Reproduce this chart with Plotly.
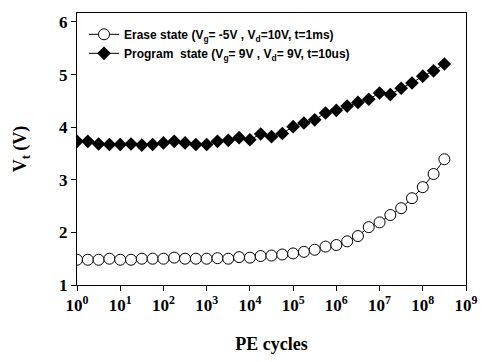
import plotly.graph_objects as go

# PE cycle counts: quarter-decade steps from 10^0 to 10^8.5
exponents = [k * 0.25 for k in range(35)]
pe_cycles = [10 ** e for e in exponents]

vt_erase = [1.48, 1.48, 1.48, 1.50, 1.48, 1.48, 1.50, 1.50, 1.50, 1.52,
            1.50, 1.50, 1.50, 1.51, 1.50, 1.53, 1.52, 1.55, 1.56, 1.58,
            1.60, 1.63, 1.67, 1.73, 1.76, 1.83, 1.93, 2.10, 2.19, 2.33,
            2.46, 2.65, 2.86, 3.11, 3.39]

vt_program = [3.73, 3.73, 3.68, 3.67, 3.67, 3.68, 3.66, 3.67, 3.70, 3.73,
              3.70, 3.67, 3.67, 3.73, 3.75, 3.80, 3.76, 3.87, 3.82, 3.88,
              4.01, 4.08, 4.14, 4.27, 4.32, 4.40, 4.47, 4.53, 4.65, 4.62,
              4.74, 4.84, 4.97, 5.07, 5.20]

x_tick_vals = [10 ** i for i in range(10)]
x_tick_text = [f"10<sup>{i}</sup>" for i in range(10)]
y_tick_vals = [1, 2, 3, 4, 5, 6]

serif = "Liberation Serif"
sans = "Liberation Sans"

fig = go.Figure()
fig.add_trace(go.Scatter(
    x=pe_cycles, y=vt_erase, mode="lines+markers",
    name="<b>Erase state (V<sub>g</sub>= -5V , V<sub>d</sub>=10V, t=1ms)</b>",
    line=dict(color="black", width=1),
    marker=dict(symbol="circle", size=11, color="white",
                line=dict(color="black", width=1)),
))
fig.add_trace(go.Scatter(
    x=pe_cycles, y=vt_program, mode="lines+markers",
    name="<b>Program  state (V<sub>g</sub>= 9V , V<sub>d</sub>= 9V, t=10us)</b>",
    line=dict(color="black", width=1),
    marker=dict(symbol="diamond", size=10.5, color="black",
                line=dict(color="black", width=0)),
))

fig.update_layout(
    width=490, height=362,
    margin=dict(l=77, r=16, t=12, b=72),
    paper_bgcolor="white", plot_bgcolor="white",
    showlegend=True,
    legend=dict(
        x=0.018, y=0.975, xanchor="left", yanchor="top",
        bgcolor="rgba(0,0,0,0)", borderwidth=0,
        font=dict(family=sans, size=12, color="black"),
        tracegroupgap=0, itemwidth=30,
    ),
    xaxis=dict(
        type="log", range=[0, 9],
        tickvals=x_tick_vals, ticktext=x_tick_text,
        ticks="outside", ticklen=5, tickwidth=1, tickcolor="black",
        showline=True, linecolor="black", linewidth=1, mirror=True,
        showgrid=False, zeroline=False,
        tickfont=dict(family=serif, size=17, color="black", weight="bold"),
        title=dict(text="<b>PE cycles</b>", standoff=22,
                   font=dict(family=serif, size=18, color="black")),
    ),
    yaxis=dict(
        range=[1, 6.17],
        tickvals=y_tick_vals,
        ticks="outside", ticklen=5, tickwidth=1, tickcolor="black",
        showline=True, linecolor="black", linewidth=1, mirror=True,
        showgrid=False, zeroline=False,
        tickfont=dict(family=serif, size=17, color="black", weight="bold"),
        title=dict(text="<b>V<sub>t</sub> (V)</b>", standoff=27,
                   font=dict(family=serif, size=18, color="black")),
    ),
)

fig.write_html("out.html")
